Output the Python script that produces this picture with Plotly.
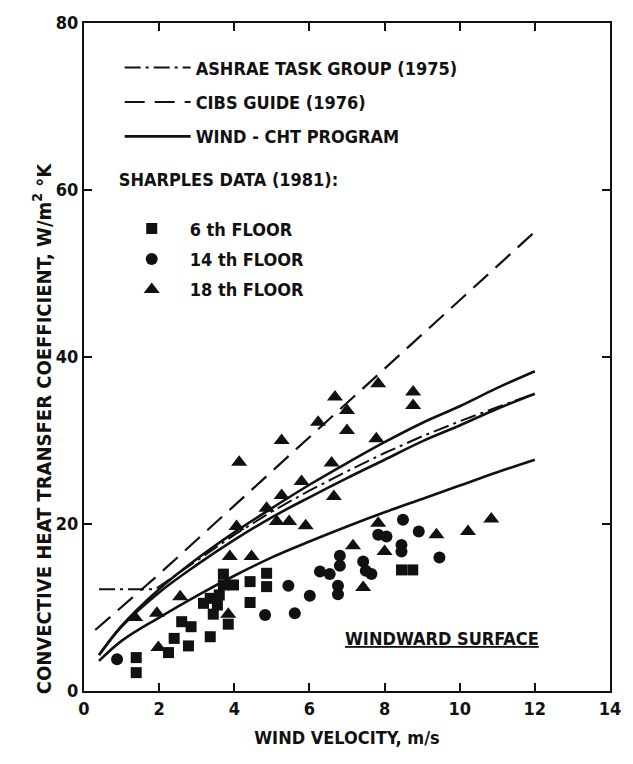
import plotly.graph_objects as go

# ---- data ----
curve_v = [0.4, 1, 2, 3, 4, 5, 6, 7, 8, 9, 10, 11, 12]
wind_18th = [4.3, 7.8, 12.2, 15.8, 19.0, 21.9, 24.7, 27.3, 29.8, 32.1, 34.1, 36.3, 38.3]
wind_14th = [4.3, 7.7, 11.8, 15.1, 18.1, 20.8, 23.2, 25.5, 27.7, 29.9, 31.8, 33.8, 35.6]
wind_6th = [3.6, 6.0, 8.8, 11.4, 13.8, 16.0, 17.9, 19.7, 21.4, 23.0, 24.6, 26.2, 27.7]

ashrae_v = [0.4, 1.9, 3, 4, 5, 6, 7, 8, 9, 10, 11, 12]
ashrae_h = [12.2, 12.2, 15.6, 18.7, 21.5, 24.0, 26.3, 28.5, 30.5, 32.3, 34.0, 35.6]

cibs_v = [0.3, 2, 4, 6, 8, 10, 12]
cibs_h = [7.3, 14.0, 22.2, 30.4, 38.6, 46.8, 55.0]

f6_v = [1.39, 1.39, 2.25, 2.4, 2.78, 2.6, 2.85, 3.18, 3.36, 3.44, 3.36, 3.71, 3.71,
        3.98, 3.84, 4.42, 4.42, 4.86, 4.86, 3.6, 3.55, 8.45, 8.75]
f6_h = [4.0, 2.2, 4.6, 6.3, 5.4, 8.3, 7.7, 10.5, 11.1, 9.2, 6.5, 14.0, 12.7,
        12.7, 8.0, 13.1, 10.6, 14.1, 12.5, 11.5, 10.3, 14.5, 14.5]

f14_v = [0.88, 4.82, 5.44, 5.61, 6.01, 6.28, 6.54, 6.81, 6.81, 6.76, 6.76, 7.43,
         7.5, 7.65, 7.83, 8.05, 8.45, 8.45, 8.49, 8.91, 9.46]
f14_h = [3.8, 9.1, 12.6, 9.3, 11.4, 14.3, 14.0, 16.2, 15.0, 12.6, 11.6, 15.5,
         14.4, 14.0, 18.7, 18.5, 17.5, 16.7, 20.5, 19.1, 16.0]

f18_v = [1.36, 1.94, 1.98, 2.56, 3.84, 3.88, 4.06, 4.13, 4.46, 4.86, 5.13, 5.26,
         5.26, 5.46, 5.79, 5.9, 6.23, 6.59, 6.65, 6.68, 7.0, 7.0, 7.16, 7.43,
         7.78, 7.83, 7.83, 8.0, 8.76, 8.76, 9.38, 10.22, 10.84]
f18_h = [8.8, 9.3, 5.2, 11.3, 9.2, 16.1, 19.7, 27.4, 16.1, 21.9, 20.3, 30.0,
         23.4, 20.3, 25.1, 19.8, 32.2, 27.3, 23.3, 35.2, 33.6, 31.2, 17.4, 12.4,
         30.2, 36.8, 20.1, 16.7, 35.8, 34.2, 18.7, 19.1, 20.6]

x_ticks = [0, 2, 4, 6, 8, 10, 12, 14]
y_ticks = [0, 20, 40, 60, 80]

FONT = "DejaVu Sans Condensed"
INK = "#111111"
TXT = dict(family=FONT, size=18, color=INK, weight="bold")

fig = go.Figure()

fig.add_trace(go.Scatter(x=ashrae_v, y=ashrae_h, mode="lines", name="ASHRAE TASK GROUP (1975)",
                         line=dict(color=INK, width=2, dash="16px,5px,3px,5px"),
                         legend="legend", legendgroup="g1"))
fig.add_trace(go.Scatter(x=cibs_v, y=cibs_h, mode="lines", name="CIBS GUIDE (1976)",
                         line=dict(color=INK, width=2.2, dash="20px,10px"),
                         legend="legend", legendgroup="g2"))
fig.add_trace(go.Scatter(x=curve_v, y=wind_18th, mode="lines", name="WIND - CHT PROGRAM",
                         line=dict(color=INK, width=2.6, shape="spline"),
                         legend="legend", legendgroup="g3"))
fig.add_trace(go.Scatter(x=curve_v, y=wind_14th, mode="lines", showlegend=False,
                         line=dict(color=INK, width=2.6, shape="spline"), legendgroup="g3"))
fig.add_trace(go.Scatter(x=curve_v, y=wind_6th, mode="lines", showlegend=False,
                         line=dict(color=INK, width=2.6, shape="spline"), legendgroup="g3"))

fig.add_trace(go.Scatter(x=f6_v, y=f6_h, mode="markers", name="6 th FLOOR",
                         marker=dict(symbol="square", size=11, color=INK),
                         legend="legend2", legendgroup="m1",
                         legendgrouptitle=dict(text="SHARPLES DATA (1981):<br> ", font=TXT)))
fig.add_trace(go.Scatter(x=f14_v, y=f14_h, mode="markers", name="14 th FLOOR",
                         marker=dict(symbol="circle", size=12, color=INK),
                         legend="legend2", legendgroup="m2"))
fig.add_trace(go.Scatter(x=f18_v, y=f18_h, mode="markers", name="18 th FLOOR",
                         marker=dict(symbol="triangle-up", size=14, color=INK),
                         legend="legend2", legendgroup="m3"))

axis_common = dict(showline=True, linewidth=2, linecolor=INK, mirror="ticks",
                   ticks="inside", ticklen=8, tickwidth=2, tickcolor=INK,
                   showgrid=False, zeroline=False,
                   tickfont=dict(family=FONT, size=18, color=INK, weight="bold"))

fig.update_layout(
    width=633, height=764,
    margin=dict(l=84, r=18, t=20, b=73),
    paper_bgcolor="white", plot_bgcolor="white",
    font=dict(family=FONT, color=INK),
    xaxis=dict(range=[0, 14], tickvals=x_ticks, ticktext=[str(v) for v in x_ticks],
               title=dict(text="WIND VELOCITY, m/s", standoff=14, font=TXT),
               **axis_common),
    yaxis=dict(range=[0, 80], tickvals=y_ticks, ticktext=[str(v) for v in y_ticks],
               **axis_common),
    legend=dict(x=0.0678, y=0.9605, xanchor="left", yanchor="top", bgcolor="rgba(0,0,0,0)",
                font=TXT, tracegroupgap=8, itemwidth=66),
    legend2=dict(x=0.0565, y=0.794, xanchor="left", yanchor="top", bgcolor="rgba(0,0,0,0)",
                 font=TXT, tracegroupgap=4, itemwidth=66),
)

fig.add_annotation(text="18 th", x=14.05, y=39.3, xref="x", yref="y", xanchor="right",
                   showarrow=False, font=TXT)
fig.add_annotation(text="14 th", x=14.05, y=35.6, xref="x", yref="y", xanchor="right",
                   showarrow=False, font=TXT)
fig.add_annotation(text="6 th", x=14.05, y=27.7, xref="x", yref="y", xanchor="right",
                   showarrow=False, font=TXT)
fig.add_annotation(text="WINDWARD SURFACE", x=9.52, y=6.3, xref="x", yref="y",
                   showarrow=False,
                   font=dict(family=FONT, size=18, color=INK, weight="bold", lineposition="under"))
fig.add_annotation(text="CONVECTIVE HEAT TRANSFER COEFFICIENT, W/m<sup>2</sup> °K",
                   x=-0.107, y=0.393, xref="paper", yref="paper", textangle=-90,
                   showarrow=False, font=dict(family=FONT, size=20, color=INK, weight="bold"))

fig.write_html("out.html")
